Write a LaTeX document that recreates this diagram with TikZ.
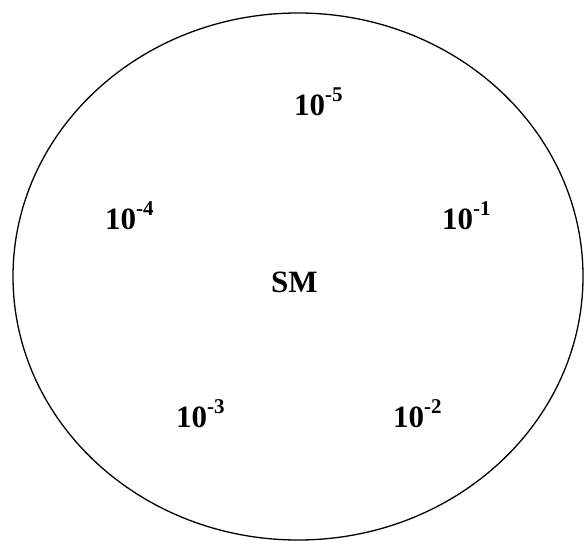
\documentclass[tikz,border=0pt]{standalone}
\usepackage{fontspec}
\setmainfont{Liberation Serif}
\newcommand{\supx}[1]{\raisebox{0.42em}{\fontsize{21}{24}\selectfont\bfseries #1}}
\begin{document}
\begin{tikzpicture}[x=1pt,y=-1pt,
  lbl/.style={anchor=base west,inner sep=0pt,font=\fontsize{31}{36}\selectfont\bfseries}]
\useasboundingbox (0,0) rectangle (584,541);
\draw[line width=1.3pt] (298,276.5) ellipse [x radius=285, y radius=263.5];
\node[lbl] (e5) at (294,115) {10\supx{-5}};
\node[lbl] (e4) at (105,229) {10\supx{-4}};
\node[lbl] (e1) at (442,229) {10\supx{-1}};
\node[lbl] (sm) at (271,292) {SM};
\node[lbl] (e3) at (176,427) {10\supx{-3}};
\node[lbl] (e2) at (393,427) {10\supx{-2}};
\end{tikzpicture}
\end{document}
